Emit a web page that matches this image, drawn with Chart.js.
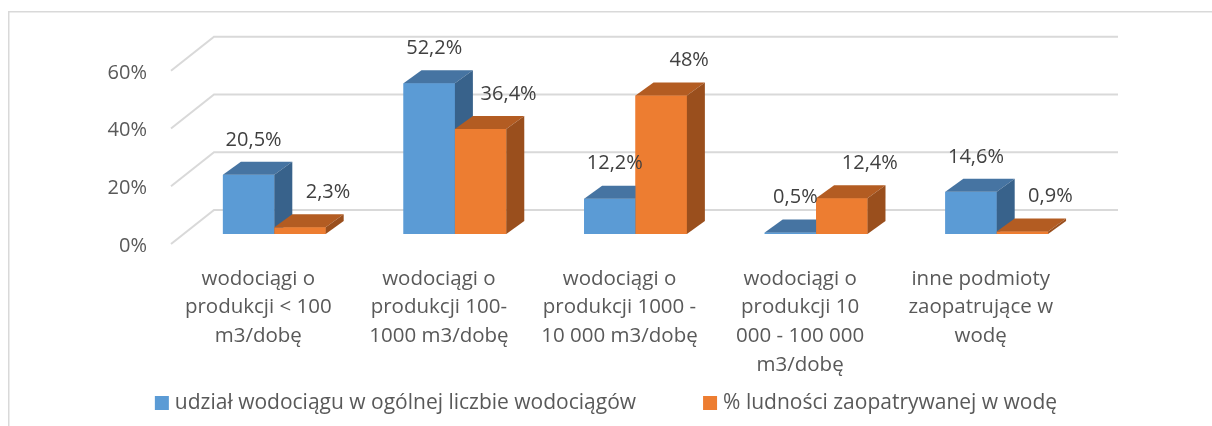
<!DOCTYPE html>
<html>
<head>
<meta charset="utf-8">
<script src="https://cdn.jsdelivr.net/npm/chart.js@4.4.1/dist/chart.umd.min.js"></script>
<style>
  html, body { margin: 0; padding: 0; background: #fff; }
  canvas { display: block; }
</style>
</head>
<body>
<canvas id="chart" width="1212" height="426"></canvas>
<script>
// dane
const categories = [
  ['wodociągi o', 'produkcji < 100', 'm3/dobę'],
  ['wodociągi o', 'produkcji 100-', '1000 m3/dobę'],
  ['wodociągi o', 'produkcji 1000 -', '10 000 m3/dobę'],
  ['wodociągi o', 'produkcji 10', '000 - 100 000', 'm3/dobę'],
  ['inne podmioty', 'zaopatrujące w', 'wodę']
];
const seriesNames = [
  'udział wodociągu w ogólnej liczbie wodociągów',
  '% ludności zaopatrywanej w wodę'
];
const shareOfWorks = [20.5, 52.2, 12.2, 0.5, 14.6];
const sharePopulation = [2.3, 36.4, 48, 12.4, 0.9];
const yTicks = [0, 20, 40, 60];

// wygląd
const frontColors = ['#5b9bd5', '#ed7d31'];
const topColors = ['#4674a2', '#b35c22'];
const sideColors = ['#38628b', '#9a4f1d'];
const FONT = 'Open Sans';
const DEPTH_X = 18, DEPTH_Y = -13;     // głębokość słupka
const labelShift = [5, 28];           // przesunięcie etykiet w poziomie

const fmt = v => String(v).replace('.', ',') + '%';

// udawany efekt 3D: ściana tylna, boki i wierzch słupków + legenda
const box3d = {
  id: 'box3d',
  beforeDraw(chart) {
    const ctx = chart.ctx;
    ctx.save();
    ctx.fillStyle = '#fff';
    ctx.fillRect(0, 0, chart.width, chart.height);
    ctx.strokeStyle = '#d9d9d9';
    ctx.lineWidth = 1.5;
    ctx.beginPath();
    ctx.moveTo(8.75, chart.height);
    ctx.lineTo(8.75, 11.75);
    ctx.lineTo(chart.width, 11.75);
    ctx.stroke();
    ctx.restore();
  },
  beforeDatasetsDraw(chart) {
    const { ctx, chartArea, scales: { y } } = chart;
    ctx.save();
    ctx.strokeStyle = '#d9d9d9';
    ctx.lineWidth = 2;
    yTicks.forEach(v => {
      const by = y.getPixelForValue(v) - 24;
      const bx = chartArea.left + 30;
      ctx.beginPath();
      ctx.moveTo(bx - 43, by + 34);
      ctx.lineTo(bx, by);
      ctx.lineTo(chartArea.right + 31, by);
      ctx.stroke();
    });
    ctx.restore();
  },
  afterDatasetsDraw(chart) {
    const ctx = chart.ctx;
    const metas = [0, 1].map(i => chart.getDatasetMeta(i));
    ctx.save();
    for (let j = 0; j < categories.length; j++) {
      metas.forEach((meta, d) => {
        const { x, y, base, width } = meta.data[j].getProps(['x', 'y', 'base', 'width'], true);
        const x0 = x - width / 2, x1 = x + width / 2;
        ctx.fillStyle = frontColors[d];
        ctx.fillRect(x0, y, width, base - y);
        ctx.fillStyle = topColors[d];
        ctx.beginPath();
        ctx.moveTo(x0, y);
        ctx.lineTo(x1, y);
        ctx.lineTo(x1 + DEPTH_X, y + DEPTH_Y);
        ctx.lineTo(x0 + DEPTH_X, y + DEPTH_Y);
        ctx.closePath();
        ctx.fill();
        ctx.fillStyle = sideColors[d];
        ctx.beginPath();
        ctx.moveTo(x1, y);
        ctx.lineTo(x1 + DEPTH_X, y + DEPTH_Y);
        ctx.lineTo(x1 + DEPTH_X, base + DEPTH_Y);
        ctx.lineTo(x1, base);
        ctx.closePath();
        ctx.fill();
      });
    }
    ctx.font = '20px "' + FONT + '"';
    ctx.fillStyle = '#404040';
    ctx.textAlign = 'center';
    ctx.textBaseline = 'middle';
    metas.forEach((meta, d) => {
      meta.data.forEach((bar, j) => {
        const v = chart.data.datasets[d].data[j];
        ctx.fillText(fmt(v), bar.x + labelShift[d], bar.y - 35);
      });
    });
    ctx.restore();
  },
  afterDraw(chart) {
    // legenda na dole, wyśrodkowana
    const ctx = chart.ctx;
    const box = 14, gap = 6, between = 67, cy = 403;
    ctx.save();
    ctx.font = '21px "' + FONT + '"';
    const items = chart.data.datasets.map(ds => ({
      text: ds.label, color: ds.backgroundColor, w: ctx.measureText(ds.label).width
    }));
    const total = items.reduce((s, it) => s + box + gap + it.w, 0) + between * (items.length - 1);
    let x = (chart.width - total) / 2;
    ctx.textAlign = 'left';
    ctx.textBaseline = 'middle';
    items.forEach(it => {
      ctx.fillStyle = it.color;
      ctx.fillRect(x, cy - box / 2, box, box);
      ctx.fillStyle = '#595959';
      ctx.fillText(it.text, x + box + gap, cy);
      x += box + gap + it.w + between;
    });
    ctx.restore();
  }
};

new Chart(document.getElementById('chart'), {
  type: 'bar',
  data: {
    labels: categories,
    datasets: [
      { label: seriesNames[0], data: shareOfWorks, backgroundColor: frontColors[0],
        categoryPercentage: 0.569, barPercentage: 1 },
      { label: seriesNames[1], data: sharePopulation, backgroundColor: frontColors[1],
        categoryPercentage: 0.569, barPercentage: 1 }
    ]
  },
  options: {
    responsive: false,
    animation: false,
    layout: { padding: { top: 60.8, right: 125, bottom: 0, left: 0 } },
    scales: {
      x: {
        grid: { display: false, drawTicks: false },
        border: { display: false },
        ticks: {
          font: { family: FONT, size: 20.5, lineHeight: 1.4 },
          color: '#595959',
          padding: 30.5,
          labelOffset: -16,
          maxRotation: 0,
          autoSkip: false
        },
        afterFit: s => { s.height = 192; }
      },
      y: {
        min: 0,
        max: 60,
        grid: { display: false, drawTicks: false },
        border: { display: false },
        ticks: {
          stepSize: 20,
          callback: v => v + '%',
          font: { family: FONT, size: 20 },
          color: '#595959',
          padding: 37,
          labelOffset: 12
        },
        afterFit: s => { s.width = 184; }
      }
    },
    plugins: {
      legend: { display: false },
      tooltip: { enabled: false }
    }
  },
  plugins: [box3d]
});
</script>
</body>
</html>
